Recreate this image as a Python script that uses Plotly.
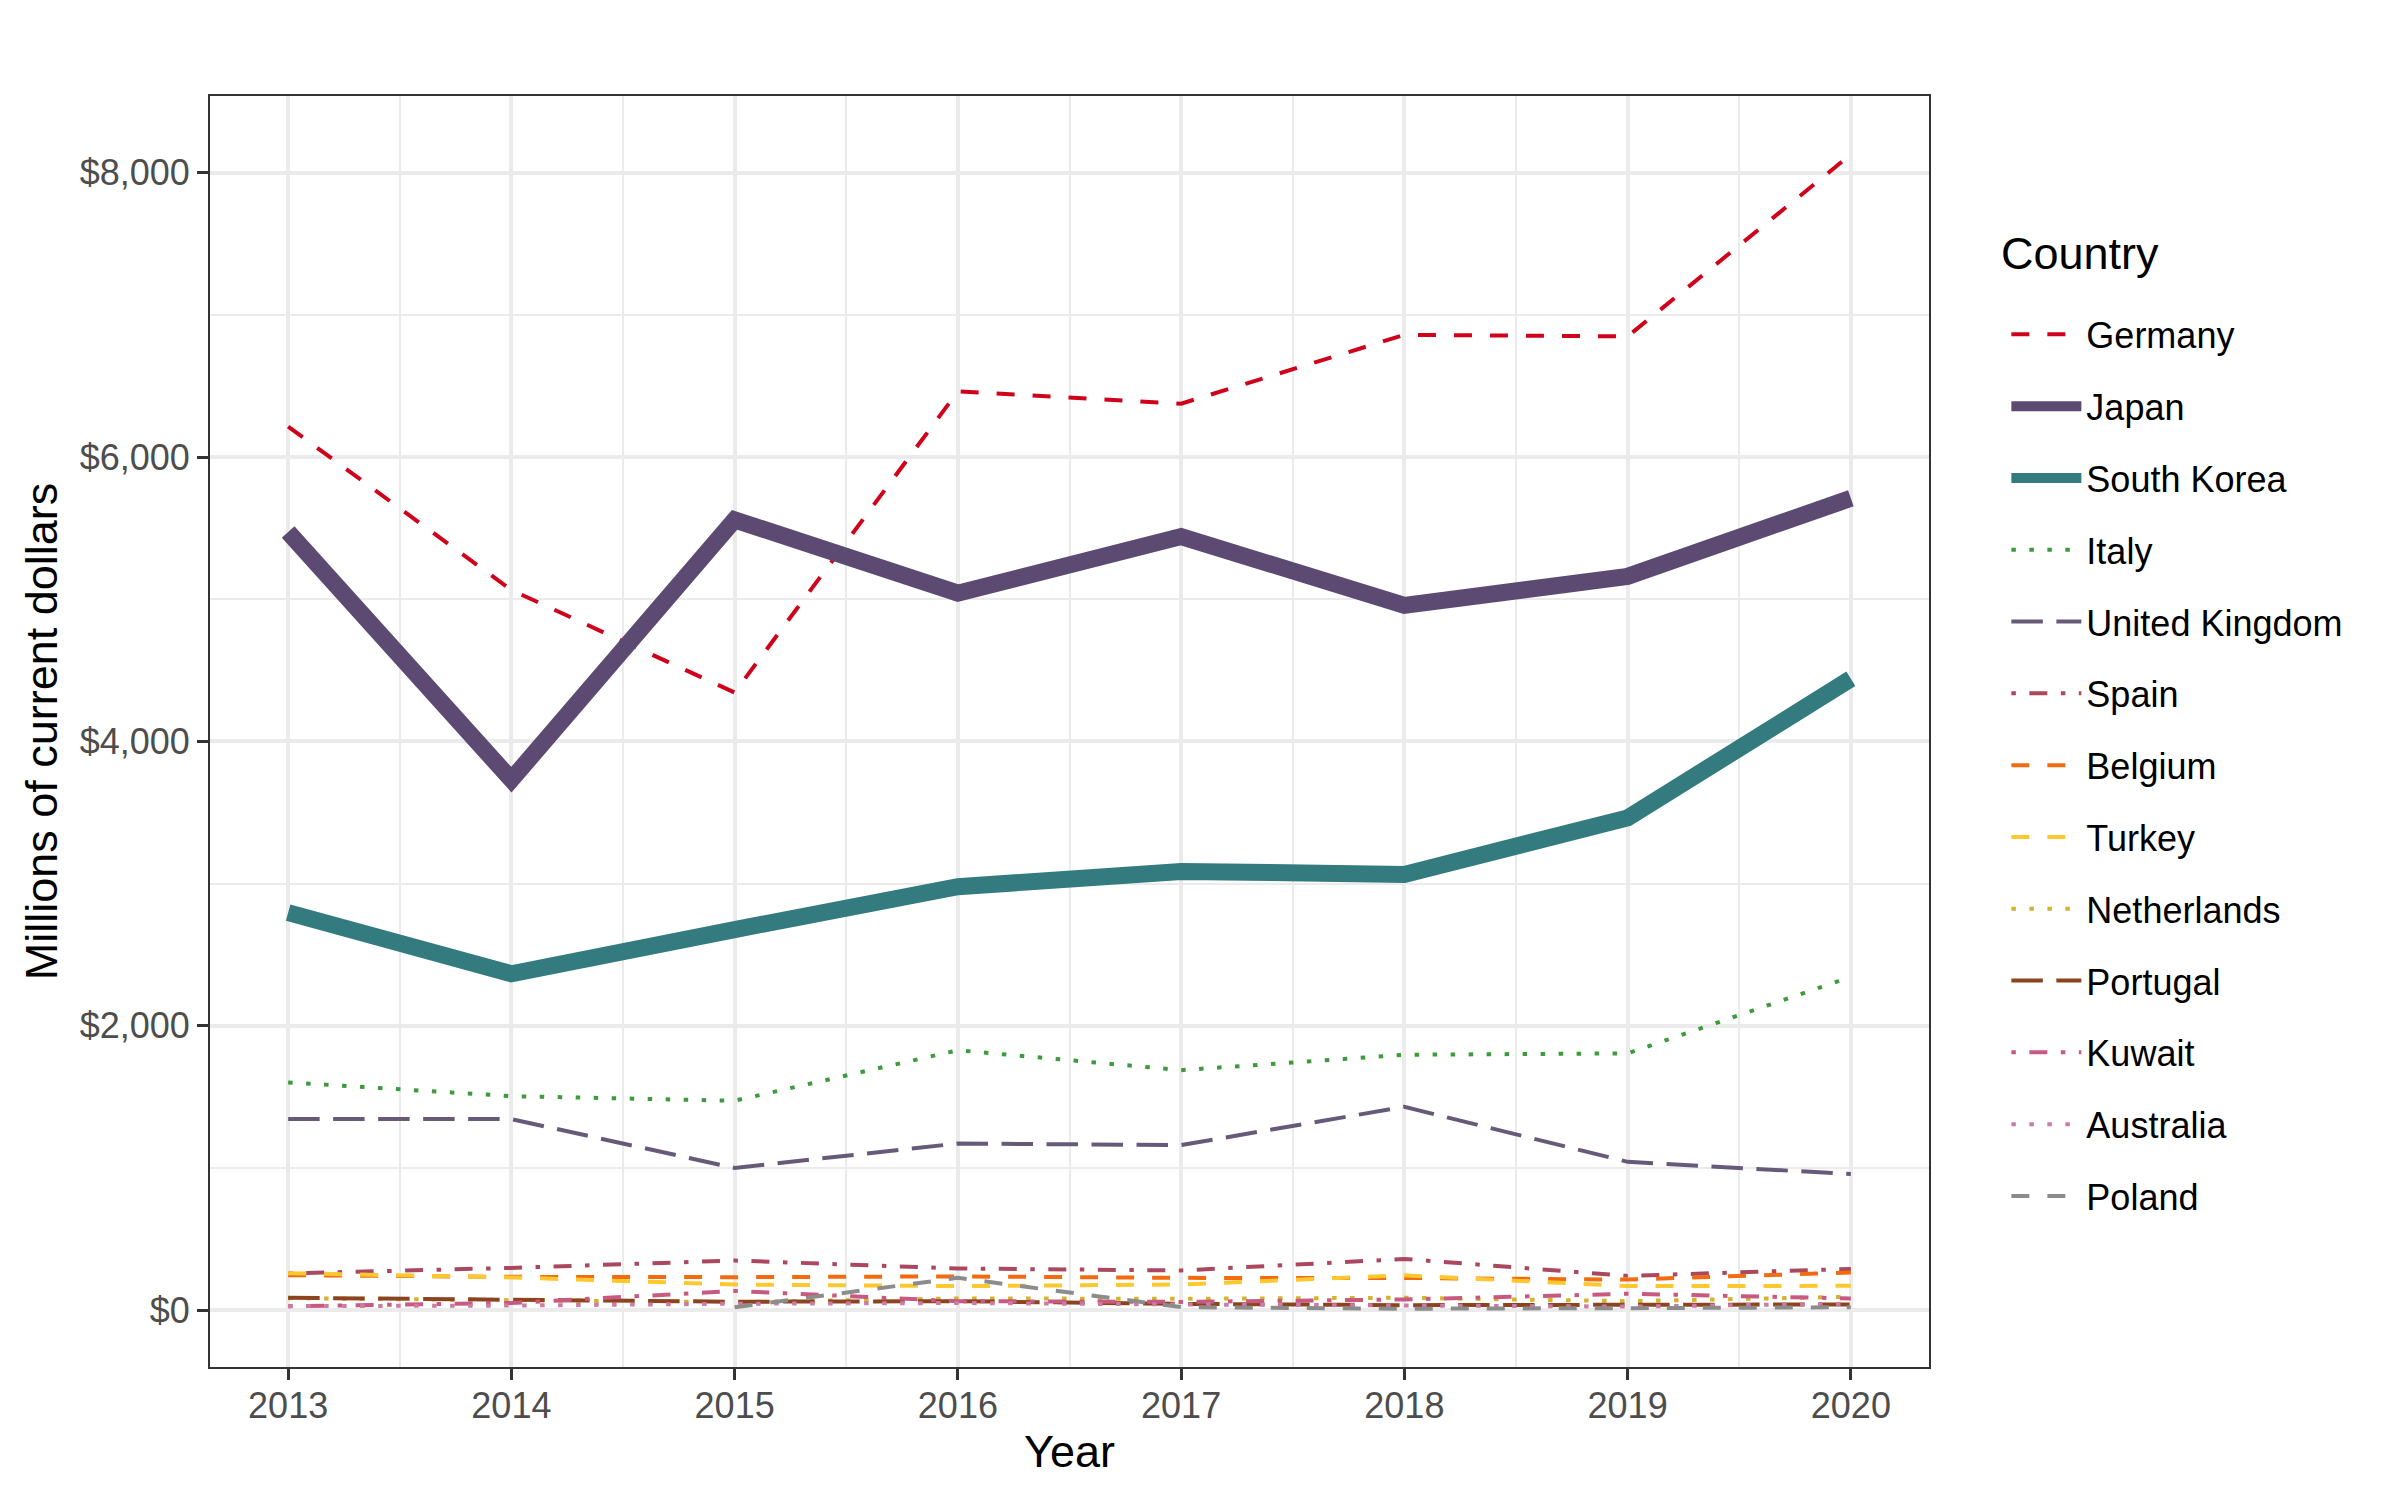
import plotly.graph_objects as go

years = [2013, 2014, 2015, 2016, 2017, 2018, 2019, 2020]

countries = ["Germany", "Japan", "South Korea", "Italy", "United Kingdom", "Spain",
             "Belgium", "Turkey", "Netherlands", "Portugal", "Kuwait", "Australia", "Poland"]

germany = [6215, 5065, 4344, 6462, 6376, 6860, 6849, 8129]
japan = [5473, 3731, 5559, 5043, 5441, 4957, 5161, 5710]
south_korea = [2796, 2366, 2677, 2978, 3086, 3065, 3462, 4441]
italy = [1602, 1505, 1473, 1828, 1688, 1796, 1806, 2344]
united_kingdom = [1344, 1344, 1000, 1172, 1161, 1430, 1043, 957]
spain = [258, 297, 349, 293, 279, 360, 241, 290]
belgium = [246, 234, 232, 237, 227, 226, 215, 265]
turkey = [260, 230, 180, 169, 180, 245, 169, 171]
netherlands = [84, 70, 56, 82, 80, 87, 63, 94]
portugal = [87, 75, 59, 63, 44, 35, 35, 40]
kuwait = [28, 50, 135, 63, 58, 75, 115, 82]
australia = [28, 32, 45, 50, 40, 30, 25, 45]
poland = [None, None, 20, 227, 21, 10, 14, 20]

series = [germany, japan, south_korea, italy, united_kingdom, spain,
          belgium, turkey, netherlands, portugal, kuwait, australia, poland]

colors = ["#d0021b", "#5c4a72", "#337b7e", "#3d9a3d", "#665a78", "#a9485e",
          "#f26b0f", "#fdc82f", "#d4b22c", "#8c4420", "#c85a82", "#cc7aa6", "#8c8c8c"]

DASHED = "18px,18px"
DOTTED = "4.5px,13.5px"
LONGDASH = "31.5px,13.5px"
DOTDASH = "4.5px,13.5px,18px,13.5px"
dashes = [DASHED, "solid", "solid", DOTTED, LONGDASH, DOTDASH,
          DASHED, DASHED, DOTTED, LONGDASH, DOTDASH, DOTTED, DASHED]
widths = [4, 17, 17, 4, 4, 4, 4, 4, 4, 4, 4, 4, 4]

fig = go.Figure()
for name, vals, col, dsh, w in zip(countries, series, colors, dashes, widths):
    fig.add_trace(go.Scatter(
        x=years, y=vals, mode="lines", name=name, legendgroup=name,
        line=dict(color=col, dash=dsh, width=w),
        connectgaps=False,
    ))

grid_major = "#ebebeb"
tick_font = dict(family="Liberation Sans, Arial, sans-serif", size=36, color="#4d4d4d")
title_font = dict(family="Liberation Sans, Arial, sans-serif", size=45, color="#000000")

fig.update_layout(
    width=2400, height=1500,
    margin=dict(l=210, r=471, t=96, b=133, autoexpand=False),
    paper_bgcolor="white", plot_bgcolor="white",
    font=dict(family="Liberation Sans, Arial, sans-serif"),
    showlegend=True,
    legend=dict(
        font=dict(size=36, color="#000000"),
        x=1.045, xanchor="left", y=0.836, yanchor="top",
        traceorder="grouped", tracegroupgap=22,
        itemwidth=70, bgcolor="rgba(0,0,0,0)",
    ),
    annotations=[dict(
        text="Country", xref="paper", yref="paper",
        x=1.0407, y=0.8757, xanchor="left", yanchor="middle",
        showarrow=False, font=dict(size=45, color="#000000"),
    )],
    xaxis=dict(
        range=[2012.65, 2020.35],
        tickvals=years, ticktext=[str(y) for y in years],
        tickfont=tick_font,
        ticks="outside", ticklen=11, tickwidth=2.5, tickcolor="#333333",
        ticklabelstandoff=-5,
        showgrid=True, gridcolor=grid_major, gridwidth=3.5,
        minor=dict(tickvals=[y + 0.5 for y in years[:-1]], showgrid=True,
                   gridcolor=grid_major, gridwidth=2, ticks=""),
        showline=True, mirror=True, linecolor="#333333", linewidth=2,
        zeroline=False,
        title=dict(text="Year", font=title_font, standoff=10),
    ),
    yaxis=dict(
        range=[-400, 8540],
        tickvals=[0, 2000, 4000, 6000, 8000],
        ticktext=["$0", "$2,000", "$4,000", "$6,000", "$8,000"],
        tickfont=tick_font,
        ticks="outside", ticklen=11, tickwidth=2.5, tickcolor="#333333",
        showgrid=True, gridcolor=grid_major, gridwidth=3.5,
        minor=dict(tickvals=[1000, 3000, 5000, 7000], showgrid=True,
                   gridcolor=grid_major, gridwidth=2, ticks=""),
        showline=True, mirror=True, linecolor="#333333", linewidth=2,
        zeroline=False,
        title=dict(text="Millions of current dollars", font=title_font, standoff=8),
    ),
)

fig.write_html("out.html")
